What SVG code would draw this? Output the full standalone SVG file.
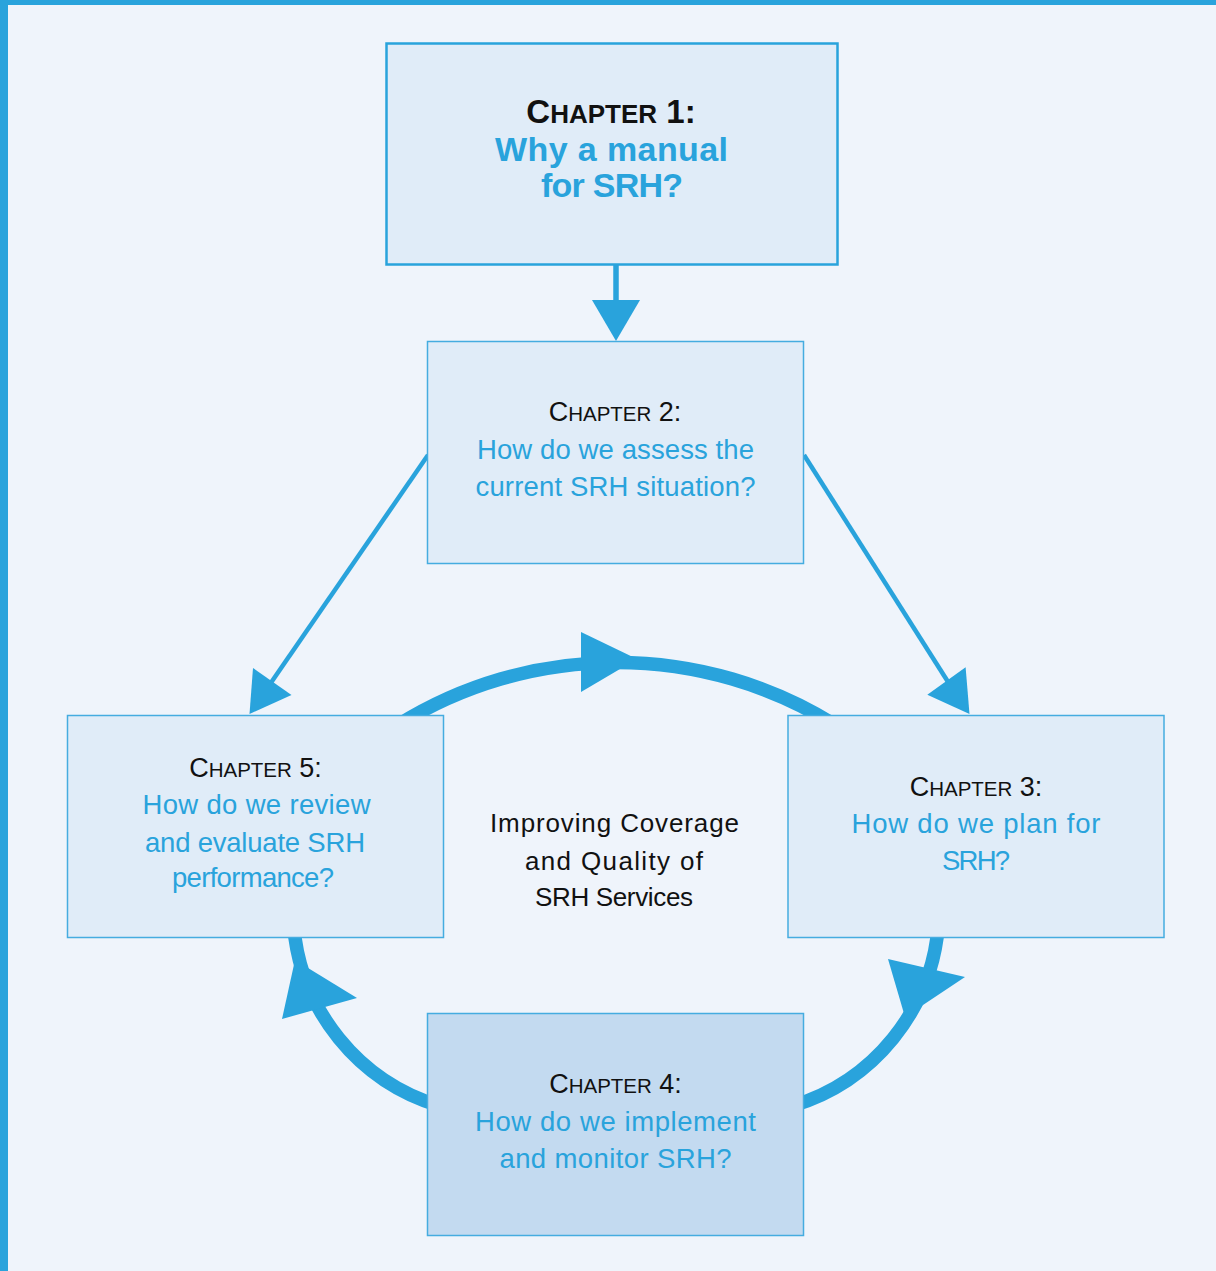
<svg xmlns="http://www.w3.org/2000/svg" width="1216" height="1271" viewBox="0 0 1216 1271">
<style>
.bg{fill:#eff4fb}
.edge{fill:#29a3dc}
.box{fill:#e0ecf8;stroke:#45ace0;stroke-width:1.5}
.box1{fill:#e0ecf8;stroke:#29a3dc;stroke-width:2.5}
.box4{fill:#c3daf0;stroke:#45ace0;stroke-width:1.5}
.cyc{fill:none;stroke:#29a3dc;stroke-width:13.5}
.ln{fill:none;stroke:#29a3dc;stroke-width:4.5}
.head{fill:#29a3dc}
text{font-family:"Liberation Sans",Arial,sans-serif;text-anchor:middle}
.ch{fill:#111;font-size:27px}
.ch .sc{font-size:20.5px}
.ch1{fill:#111;font-size:33px;font-weight:bold}
.ch1 .sc{font-size:26px}
.q{fill:#29a3dc;font-size:27.5px}
.q1{fill:#29a3dc;font-size:34px;font-weight:bold}
.mid{fill:#111;font-size:26px}
</style>
<rect class="bg" x="0" y="0" width="1216" height="1271"/>
<rect class="edge" x="0" y="0" width="8" height="1271"/>
<rect class="edge" x="0" y="0" width="1216" height="5"/>

<g id="connectors">
  <path class="cyc" d="M398,725 A413,413 0 0 1 835,725"/>
  <path class="cyc" d="M293.6,925 A206,206 0 0 0 440,1106"/>
  <path class="cyc" d="M938.4,925 A206,206 0 0 1 792,1106"/>
  <polygon class="head" points="581,632 581,692 637,659"/>
  <polygon class="head" points="295,960 282,1019 357,998"/>
  <polygon class="head" points="905,1017 888,959 965,977"/>
  <line class="ln" x1="616" y1="264" x2="616" y2="302" style="stroke-width:5.5"/>
  <polygon class="head" points="592,300 640,300 616,341"/>
  <line class="ln" x1="428" y1="455" x2="268" y2="687"/>
  <polygon class="head" points="249.5,714 253,668 291.5,695"/>
  <line class="ln" x1="804" y1="455" x2="950" y2="685"/>
  <polygon class="head" points="969.5,714 927.3,694.7 965.6,667.3"/>
</g>

<g id="chapter1">
  <rect class="box1" x="386.5" y="43.5" width="451" height="221"/>
  <text class="ch1" x="611" y="122.5">C<tspan class="sc">HAPTER</tspan> 1:</text>
  <text class="q1" x="611.5" y="160.5" textLength="233" lengthAdjust="spacing">Why a manual</text>
  <text class="q1" x="612" y="196.5" textLength="142" lengthAdjust="spacing">for SRH?</text>
</g>

<g id="chapter2">
  <rect class="box" x="427.5" y="341.5" width="376" height="222"/>
  <text class="ch" x="615" y="420.5">C<tspan class="sc">HAPTER</tspan> 2:</text>
  <text class="q" x="615.5" y="458.5" textLength="277" lengthAdjust="spacing">How do we assess the</text>
  <text class="q" x="615.5" y="496" textLength="280" lengthAdjust="spacing">current SRH situation?</text>
</g>

<g id="chapter3">
  <rect class="box" x="788" y="715.5" width="376" height="222"/>
  <text class="ch" x="976" y="796">C<tspan class="sc">HAPTER</tspan> 3:</text>
  <text class="q" x="976" y="833" textLength="249" lengthAdjust="spacing">How do we plan for</text>
  <text class="q" x="976" y="870" textLength="68" lengthAdjust="spacing">SRH?</text>
</g>

<g id="chapter4">
  <rect class="box4" x="427.5" y="1013.5" width="376" height="222"/>
  <text class="ch" x="615.5" y="1093">C<tspan class="sc">HAPTER</tspan> 4:</text>
  <text class="q" x="615.5" y="1131" textLength="281" lengthAdjust="spacing">How do we implement</text>
  <text class="q" x="615.5" y="1168" textLength="232" lengthAdjust="spacing">and monitor SRH?</text>
</g>

<g id="chapter5">
  <rect class="box" x="67.5" y="715.5" width="376" height="222"/>
  <text class="ch" x="255.5" y="777">C<tspan class="sc">HAPTER</tspan> 5:</text>
  <text class="q" x="256.5" y="813.5" textLength="228" lengthAdjust="spacing">How do we review</text>
  <text class="q" x="255" y="851.5" textLength="220" lengthAdjust="spacing">and evaluate SRH</text>
  <text class="q" x="253" y="887" textLength="162" lengthAdjust="spacing">performance?</text>
</g>

<g id="center-label">
  <text class="mid" x="614.5" y="832" textLength="249" lengthAdjust="spacing">Improving Coverage</text>
  <text class="mid" x="614" y="869.5" textLength="178" lengthAdjust="spacing">and Quality of</text>
  <text class="mid" x="614" y="906" textLength="158" lengthAdjust="spacing">SRH Services</text>
</g>
</svg>
